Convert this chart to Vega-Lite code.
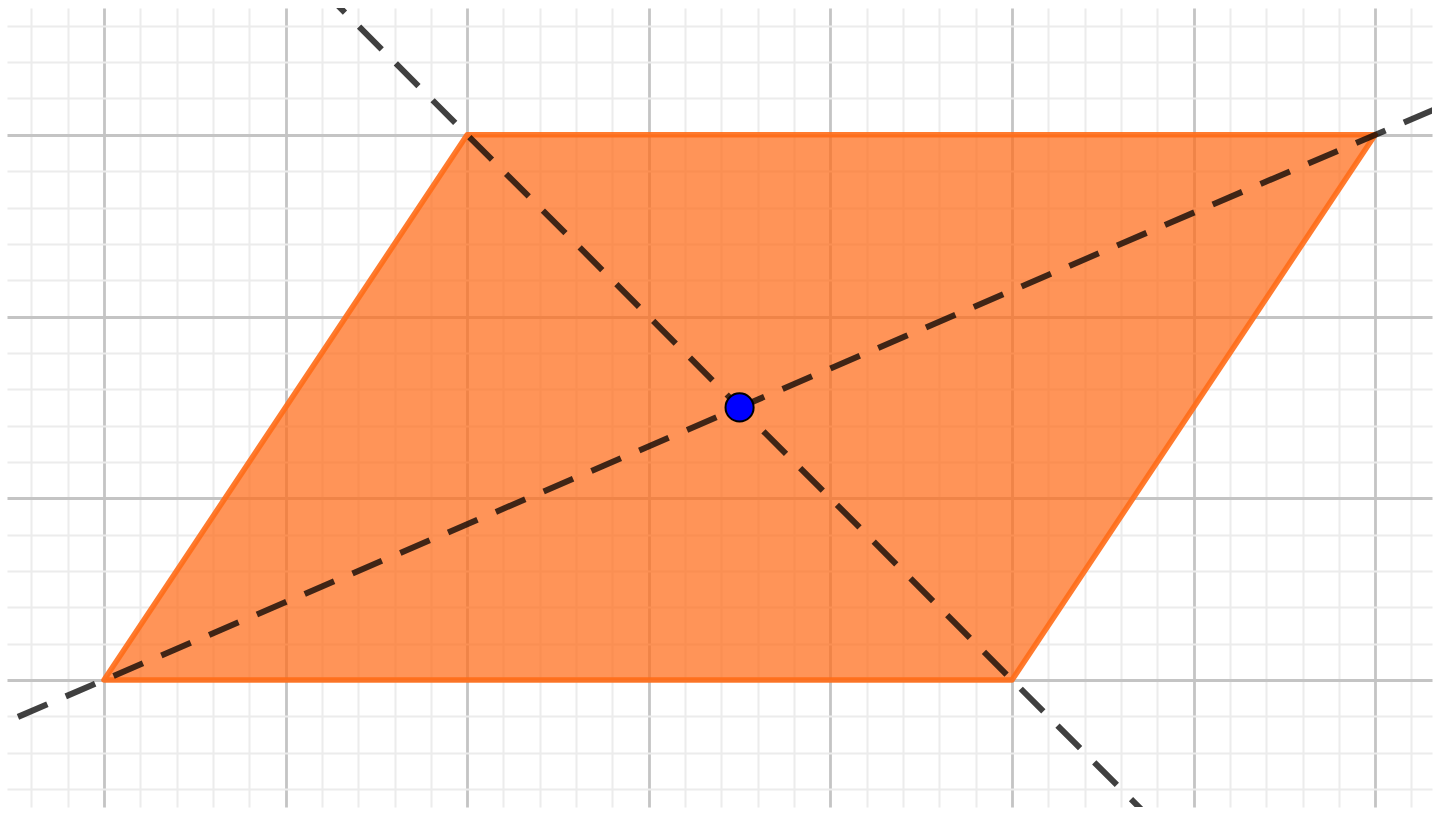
{
  "$schema": "https://vega.github.io/schema/vega-lite/v6.json",
  "width": 1425,
  "height": 799,
  "autosize": "none",
  "padding": {"left": 7, "top": 8, "right": 3, "bottom": 18},
  "background": "white",
  "config": {"view": {"stroke": null}},
  "datasets": {
    "poly": [
      {"i": 1, "x": 0, "y": 0},
      {"i": 2, "x": 5, "y": 0},
      {"i": 3, "x": 7, "y": 3},
      {"i": 4, "x": 2, "y": 3}
    ],
    "diag": [
      {"line": "AC", "i": 1, "x": -1, "y": -0.4286},
      {"line": "AC", "i": 2, "x": 8, "y": 3.4286},
      {"line": "BD", "i": 1, "x": 1, "y": 4},
      {"line": "BD", "i": 2, "x": 6, "y": -1}
    ],
    "center": [{"x": 3.5, "y": 1.5}]
  },
  "resolve": {"axis": {"x": "independent", "y": "independent"}},
  "layer": [
    {
      "data": {"name": "poly"},
      "mark": {"type": "line", "interpolate": "linear-closed", "fill": "#ff6b17", "fillOpacity": 0.72, "stroke": "#ff6b17", "strokeWidth": 5.5, "strokeJoin": "round", "strokeOpacity": 0.9},
      "encoding": {
        "x": {"field": "x", "type": "quantitative", "scale": {"domain": [-0.534, 7.313], "nice": false, "zero": false},
          "axis": {"orient": "bottom", "title": null, "labels": false, "ticks": false, "domain": false, "grid": true, "gridColor": "#ececec", "gridWidth": 2,
            "values": [-0.4,-0.2,0.2,0.4,0.6,0.8,1.2,1.4,1.6,1.8,2.2,2.4,2.6,2.8,3.2,3.4,3.6,3.8,4.2,4.4,4.6,4.8,5.2,5.4,5.6,5.8,6.2,6.4,6.6,6.8,7.2]}},
        "y": {"field": "y", "type": "quantitative", "scale": {"domain": [-0.699, 3.698], "nice": false, "zero": false},
          "axis": {"orient": "left", "title": null, "labels": false, "ticks": false, "domain": false, "grid": true, "gridColor": "#ececec", "gridWidth": 2,
            "values": [-0.6,-0.4,-0.2,0.2,0.4,0.6,0.8,1.2,1.4,1.6,1.8,2.2,2.4,2.6,2.8,3.2,3.4,3.6]}},
        "order": {"field": "i", "type": "quantitative"}
      }
    },
    {
      "data": {"name": "diag"},
      "mark": {"type": "line", "clip": true, "color": "#000000", "opacity": 0.75, "strokeWidth": 6, "strokeDash": [32, 20], "strokeCap": "butt"},
      "encoding": {
        "x": {"field": "x", "type": "quantitative",
          "axis": {"orient": "top", "title": null, "labels": false, "ticks": false, "domain": false, "grid": true, "gridColor": "#c4c4c4", "gridWidth": 2.8,
            "values": [0, 1, 2, 3, 4, 5, 6, 7]}},
        "y": {"field": "y", "type": "quantitative",
          "axis": {"orient": "right", "title": null, "labels": false, "ticks": false, "domain": false, "grid": true, "gridColor": "#c4c4c4", "gridWidth": 2.8,
            "values": [0, 1, 2, 3]}},
        "detail": {"field": "line", "type": "nominal"},
        "order": {"field": "i", "type": "quantitative"}
      }
    },
    {
      "data": {"name": "center"},
      "mark": {"type": "circle", "size": 790, "fill": "#0000ff", "stroke": "#000000", "strokeWidth": 2, "opacity": 1},
      "encoding": {
        "x": {"field": "x", "type": "quantitative", "axis": null},
        "y": {"field": "y", "type": "quantitative", "axis": null}
      }
    }
  ]
}
